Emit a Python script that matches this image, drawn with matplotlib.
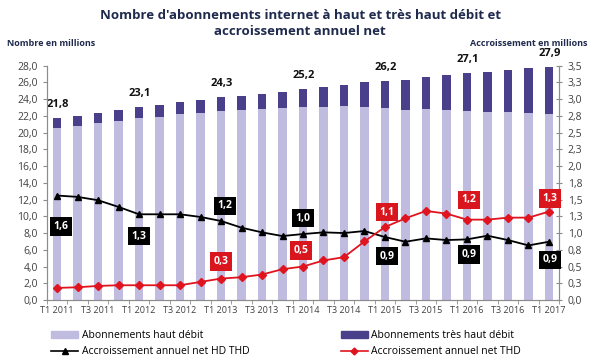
import matplotlib
matplotlib.use("Agg")
import matplotlib.pyplot as plt
import numpy as np
from matplotlib.patches import Patch
from matplotlib.lines import Line2D

plt.rcParams['font.family'] = ['Open Sans', 'DejaVu Sans']

trimestres = ["T1 2011", "T2 2011", "T3 2011", "T4 2011",
              "T1 2012", "T2 2012", "T3 2012", "T4 2012",
              "T1 2013", "T2 2013", "T3 2013", "T4 2013",
              "T1 2014", "T2 2014", "T3 2014", "T4 2014",
              "T1 2015", "T2 2015", "T3 2015", "T4 2015",
              "T1 2016", "T2 2016", "T3 2016", "T4 2016",
              "T1 2017"]

# total subscriptions (millions)
totaux = np.array([21.8, 22.0, 22.3, 22.7, 23.1, 23.3, 23.6, 23.9, 24.3, 24.35, 24.6, 24.9,
                   25.2, 25.4, 25.65, 26.0, 26.2, 26.3, 26.6, 26.9, 27.1, 27.25, 27.5, 27.7, 27.9])
# haut debit part (millions)
haut_debit = np.array([20.6, 20.8, 21.1, 21.4, 21.7, 21.9, 22.2, 22.4, 22.6, 22.7, 22.85, 22.95,
                       23.05, 23.05, 23.2, 23.05, 22.9, 22.75, 22.8, 22.7, 22.6, 22.5, 22.5, 22.35, 22.2])
tres_haut_debit = totaux - haut_debit

# annual net growth (millions)
accr_hd_thd = [1.56, 1.54, 1.49, 1.39, 1.28, 1.28, 1.28, 1.24, 1.18, 1.08, 1.01, 0.955,
               0.985, 1.01, 1.0, 1.03, 0.94, 0.87, 0.92, 0.895, 0.905, 0.96, 0.895, 0.815, 0.87]
accr_thd = [0.18, 0.19, 0.21, 0.22, 0.22, 0.22, 0.22, 0.27, 0.32, 0.34, 0.38, 0.46,
            0.50, 0.59, 0.64, 0.875, 1.09, 1.22, 1.33, 1.29, 1.20, 1.20, 1.23, 1.23, 1.32]

ytick_gauche = np.arange(0, 28.1, 2)
ytick_droite = np.arange(0, 3.51, 0.25)
ytick_droite_labels = ["0,0", "0,3", "0,5", "0,8", "1,0", "1,3", "1,5", "1,8",
                       "2,0", "2,3", "2,5", "2,8", "3,0", "3,3", "3,5"]

idx_labels = [0, 4, 8, 12, 16, 20, 24]

c_hd = "#c0bcdf"
c_thd = "#4a3f8a"
c_red = "#e0141e"
c_title = "#1f2a4d"
c_tick = "#404040"

fig = plt.figure(figsize=(6, 3.63), dpi=100)
ax = fig.add_axes([0.078, 0.1736, 0.854, 0.6455])
ax2 = ax.twinx()

x = np.arange(len(trimestres))
ax.bar(x, haut_debit, width=0.42, color=c_hd)
ax.bar(x, tres_haut_debit, width=0.42, bottom=haut_debit, color=c_thd)

for i in idx_labels:
    ax.annotate(f"{totaux[i]:.1f}".replace(".", ","), (x[i], totaux[i]),
                xytext=(1, 8), textcoords="offset pixels", ha="center", va="bottom",
                fontsize=8, fontweight="bold", color="#111111", annotation_clip=False)

ax.set_xlim(-0.5, 24.5)
ax.set_ylim(0, 28)
ax.set_yticks(ytick_gauche)
ax.set_yticklabels([f"{v:.1f}".replace(".", ",") for v in ytick_gauche])
ax.set_xticks(x[::2])
ax.set_xticklabels(trimestres[::2])
ax.set_xticks(np.arange(-0.5, 25, 1), minor=True)

ax2.plot(x, accr_hd_thd, color="black", marker="^", markersize=5, linewidth=1.3)
ax2.plot(x, accr_thd, color=c_red, marker="D", markersize=4.5, linewidth=1.3)
ax2.set_ylim(0, 3.5)
ax2.set_yticks(ytick_droite)
ax2.set_yticklabels(ytick_droite_labels)

box_off_noir = [(4, -31), (0, -22), (4, 15), (0, 16), (2, -19), (2, -15), (1, -18)]
box_off_rouge = [(0, 17), (-2, 16), (2, 15), (2, 20), (1, 13)]

for i, off in zip(idx_labels, box_off_noir):
    ax2.annotate(f"{accr_hd_thd[i]:.1f}".replace(".", ","), (x[i], accr_hd_thd[i]),
                 xytext=off, textcoords="offset pixels", ha="center", va="center",
                 fontsize=7.5, fontweight="bold", color="white",
                 bbox=dict(boxstyle="square,pad=0.35", fc="black", ec="none"))
for i, off in zip(idx_labels[2:], box_off_rouge):
    ax2.annotate(f"{accr_thd[i]:.1f}".replace(".", ","), (x[i], accr_thd[i]),
                 xytext=off, textcoords="offset pixels", ha="center", va="center",
                 fontsize=7.5, fontweight="bold", color="white",
                 bbox=dict(boxstyle="square,pad=0.35", fc="#d9161e", ec="none"))

for a in (ax, ax2):
    a.spines["top"].set_visible(False)
    for s in ("left", "right", "bottom"):
        a.spines[s].set_color("#8c8c8c")
    a.tick_params(axis="both", which="both", colors="#8c8c8c", labelcolor=c_tick, labelsize=7.5, length=3)
ax.tick_params(axis="x", which="major", labelsize=6.5, length=0, pad=4)
ax.tick_params(axis="x", which="minor", length=3)
ax2.tick_params(axis="y", direction="inout", length=5)

fig.text(0.5, 0.935, "Nombre d'abonnements internet à haut et très haut débit et\naccroissement annuel net",
         ha="center", va="center", fontsize=9.5, fontweight="bold", color=c_title, linespacing=1.3)
fig.text(0.012, 0.88, "Nombre en millions", ha="left", va="center", fontsize=6.5,
         fontweight="bold", color=c_title)
fig.text(0.98, 0.88, "Accroissement en millions", ha="right", va="center", fontsize=6.5,
         fontweight="bold", color=c_title)

handles = [Patch(color=c_hd), Line2D([], [], color="black", marker="^", markersize=4, lw=1.2),
           Patch(color=c_thd), Line2D([], [], color=c_red, marker="D", markersize=3.5, lw=1.2)]
labels = ["Abonnements haut débit", "Accroissement annuel net HD THD",
          "Abonnements très haut débit", "Accroissement annuel net THD"]
fig.legend(handles, labels, loc="lower left", bbox_to_anchor=(0.07, -0.01), ncol=2,
           frameon=False, fontsize=7.5, handlelength=2.6, handleheight=0.6,
           handletextpad=0.3, columnspacing=8.8, labelspacing=0.5)

fig.savefig("out.png", dpi=100)
